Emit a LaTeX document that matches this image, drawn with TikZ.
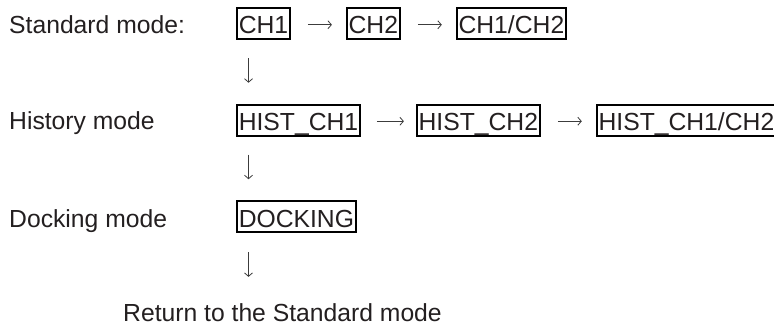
\documentclass[tikz,border=0pt]{standalone}
\usepackage{fontspec}
\setmainfont{Liberation Sans}
\usepackage{xcolor}
\usepackage{tikz}
\usetikzlibrary{arrows.meta, positioning}
\definecolor{inkgray}{RGB}{35, 31, 32}
\definecolor{arrowgray}{RGB}{60, 60, 60}
\tikzstyle{modelabel} = [
    anchor=base west,
    inner sep=0pt,
    text=inkgray,
    font=\fontsize{24.7}{30}\selectfont
]
\tikzstyle{modebox} = [
    rectangle,
    draw=black,
    line width=1.9pt,
    inner xsep=1.8pt,
    inner ysep=1.8pt,
    text height=24pt,
    text depth=3.5pt,
    text=inkgray,
    font=\fontsize{24.7}{30}\selectfont
]
\tikzstyle{flow} = [
    line width=0.8pt,
    -{Straight Barb[length=3.5pt, width=8pt]},
    color=arrowgray
]

\begin{document}
\begin{tikzpicture}[x=1pt, y=1pt, node distance=55pt]
        \useasboundingbox (0, 0) rectangle (774, -326);

        % Mode names
        \node[modelabel] (stdlabel) at (9, -34) {Standard mode:};
        \node[modelabel] (histlabel) at (9, -130) {History mode};
        \node[modelabel] (docklabel) at (9, -227) {Docking mode};

        % Standard mode
        \node[modebox, anchor=base west] (ch1) at (236, -34) {CH1};
        \node[modebox, right=of ch1] (ch2) {CH2};
        \node[modebox, right=of ch2] (ch12) {CH1/CH2};

        % History mode
        \node[modebox, anchor=base west] (hist1) at (236, -130.5) {HIST\_CH1};
        \node[modebox, right=of hist1] (hist2) {HIST\_CH2};
        \node[modebox, right=of hist2] (hist12) {HIST\_CH1/CH2};

        % Docking mode
        \node[modebox, anchor=base west] (dock) at (236, -227) {DOCKING};

        % Back to start
        \node[modelabel] (ret) at (123, -321) {Return to the Standard mode};

        % Arrows
        \draw[flow, shorten <=17pt, shorten >=14pt] ([yshift=-1pt]ch1.east) -- ([yshift=-1pt]ch2.west);
        \draw[flow, shorten <=17pt, shorten >=14pt] ([yshift=-1pt]ch2.east) -- ([yshift=-1pt]ch12.west);
        \draw[flow, shorten <=16pt, shorten >=12pt] ([yshift=-1pt]hist1.east) -- ([yshift=-1pt]hist2.west);
        \draw[flow, shorten <=17pt, shorten >=14pt] ([yshift=-1pt]hist2.east) -- ([yshift=-1pt]hist12.west);

        \draw[flow, shorten <=18pt, shorten >=21pt] ([xshift=12.5pt]ch1.south west) -- ([xshift=12.5pt]hist1.north west);
        \draw[flow, shorten <=18pt, shorten >=21pt] ([xshift=12.5pt]hist1.south west) -- ([xshift=12.5pt]dock.north west);
        \draw[flow, shorten <=19pt, shorten >=26pt] ([xshift=12.5pt]dock.south west) -- ([xshift=12.5pt]dock.south west |- ret.north);
    \end{tikzpicture}
\end{document}
